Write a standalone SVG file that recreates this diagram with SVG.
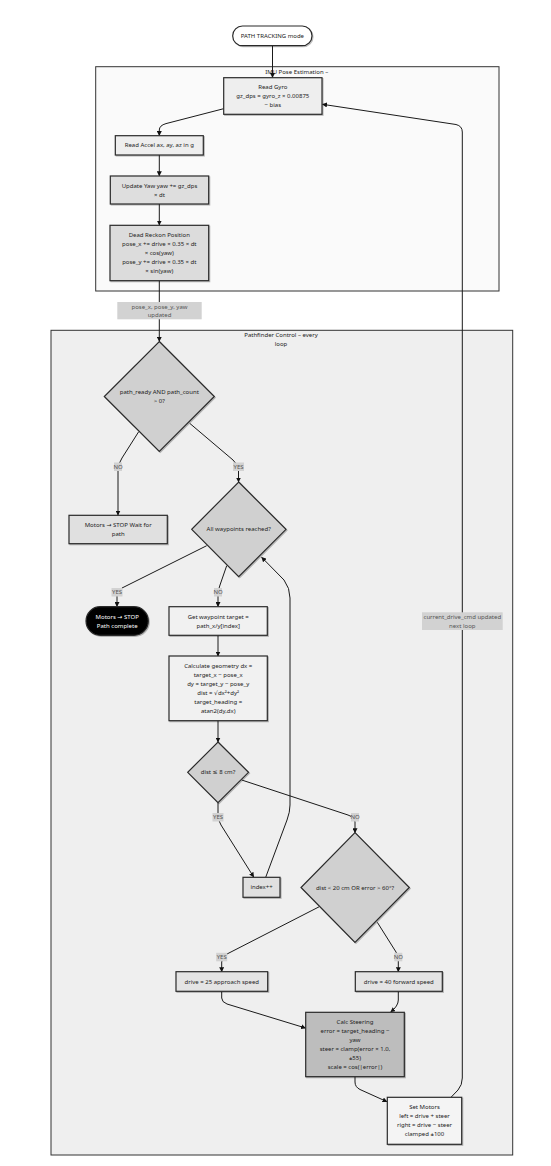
<svg xmlns="http://www.w3.org/2000/svg" width="551" height="1166" viewBox="0 0 551 1166">
<defs>
<marker id="arr" viewBox="0 0 10 10" refX="9" refY="5" markerUnits="userSpaceOnUse" markerWidth="5" markerHeight="5" orient="auto">
<path d="M0,0 L10,5 L0,10 z" fill="#111"/>
</marker>
<filter id="sh" x="-10%" y="-10%" width="130%" height="130%">
<feDropShadow dx="1" dy="1" stdDeviation="0.4" flood-color="#000" flood-opacity="0.25"/>
</filter>
</defs>
<style>
text{font-family:"Noto Sans","DejaVu Sans",sans-serif;font-size:6px;fill:#222;text-anchor:middle;dominant-baseline:central}
.node{stroke:#2a2a2a;stroke-width:1.2;filter:url(#sh)}
.cl{stroke:#333;stroke-width:1}
.e{fill:none;stroke:#1a1a1a;stroke-width:1;marker-end:url(#arr)}
.lb{fill:#d2d2d2}
.lt{fill:#555}
.white{fill:#fff}
</style>
<rect width="551" height="1166" fill="#ffffff"/>
<g id="cluster-imu">
<rect class="cl" x="95.7" y="66.7" width="403.3" height="224.3" fill="#fafafa"/>
<text x="296.7" y="71.7">IMU Pose Estimation –</text>
</g>
<g id="cluster-pathfinder">
<rect class="cl" x="51" y="330.3" width="461.7" height="824.7" fill="#efefef"/>
<text x="281" y="335.3">Pathfinder Control – every</text>
<text x="281" y="344">loop</text>
</g>
<g id="connectors">
<path class="e" d="M272.5,46 L272.5,77.5"/>
<path class="e" d="M223.7,108.7 L166,123.6 Q159.3,125.5 159.3,130 L159.3,135.5"/>
<path class="e" d="M159.3,155 L159.3,175.8"/>
<path class="e" d="M159.3,204 L159.3,225"/>
<path class="e" d="M159.3,280.7 L159.3,341.3"/>
<path class="e" d="M138.7,431.7 L122,458 Q118,464 118,470 L118,515"/>
<path class="e" d="M189.7,423.3 L233,460 Q238.5,465 238.5,470 L238.5,482"/>
<path class="e" d="M206.7,545.7 L122,588 Q117,591 117,596 L117,606.5"/>
<path class="e" d="M226.7,565.7 L220,585 Q218,590 218,595 L218,606.5"/>
<path class="e" d="M218,635.3 L218,656"/>
<path class="e" d="M218,720.7 L218,742"/>
<path class="e" d="M218,802.7 L218,815 Q218,820 221,825 L253.7,877"/>
<path class="e" d="M241.7,780 L348,815 Q355,817.5 355,822 L355,832.7"/>
<path class="e" d="M265.7,877.3 L287,820 Q290,812 290,805 L290,598 Q290,588 284,580 L261.7,557.3"/>
<path class="e" d="M319.3,906.7 L227,954 Q221.7,957 221.7,962 L221.7,971.7"/>
<path class="e" d="M377.3,922.3 L396,952 Q398.3,956 398.3,960 L398.3,971.7"/>
<path class="e" d="M221.7,991.3 L221.7,998 Q221.7,1002 227,1004 L305.5,1028"/>
<path class="e" d="M398.3,991.3 L398.3,1000 Q398.3,1006 390.7,1012"/>
<path class="e" d="M355,1076.7 L355,1082 Q355,1087 360,1089.5 L387,1101.7"/>
<path class="e" d="M451,1097.3 L458,1090 Q462.3,1085 462.3,1078 L462.3,132 Q462.3,126 456,124.5 L322.5,104.3"/>
<g id="edge-labels">
<rect class="lb" x="117.3" y="302" width="84.4" height="17.3"/>
<text class="lt" x="159.5" y="306.7">pose_x, pose_y, yaw</text>
<text class="lt" x="159.5" y="315.3">updated</text>
<rect class="lb" x="422" y="612.3" width="80.7" height="17.7"/>
<text class="lt" x="462.3" y="617">current_drive_cmd updated</text>
<text class="lt" x="462.3" y="626">next loop</text>
<rect class="lb" x="114" y="462.5" width="8" height="8.5"/>
<text class="lt" x="118" y="466.7">NO</text>
<rect class="lb" x="233" y="462.5" width="11" height="8.5"/>
<text class="lt" x="238.5" y="466.7">YES</text>
<rect class="lb" x="111.5" y="588" width="11" height="8.5"/>
<text class="lt" x="117" y="592">YES</text>
<rect class="lb" x="214" y="588" width="8" height="8.5"/>
<text class="lt" x="218" y="592">NO</text>
<rect class="lb" x="212.5" y="813" width="11" height="8.5"/>
<text class="lt" x="218" y="817.3">YES</text>
<rect class="lb" x="351" y="813" width="8" height="8.5"/>
<text class="lt" x="355" y="817.3">NO</text>
<rect class="lb" x="216.2" y="952.8" width="11" height="8.5"/>
<text class="lt" x="221.7" y="957">YES</text>
<rect class="lb" x="394.3" y="952.8" width="8" height="8.5"/>
<text class="lt" x="398.3" y="957">NO</text>
</g>
</g>
<g id="start">
<rect class="node" x="232.7" y="26" width="79.3" height="19.7" rx="9.8" fill="#ffffff"/>
<text x="272.4" y="36">PATH TRACKING mode</text>
</g>
<g id="read-gyro">
<rect class="node" x="223.7" y="77.7" width="98.3" height="36.6" fill="#eeeeee"/>
<text x="272.8" y="86.7">Read Gyro</text>
<text x="272.8" y="96">gz_dps = gyro_z × 0.00875</text>
<text x="272.8" y="105">− bias</text>
</g>
<g id="read-accel">
<rect class="node" x="115.3" y="135.7" width="88" height="19.3" fill="#eeeeee"/>
<text x="159.3" y="145.4">Read Accel ax, ay, az in g</text>
</g>
<g id="update-yaw">
<rect class="node" x="110.3" y="176" width="98.4" height="28" fill="#dedede"/>
<text x="159.5" y="185.5">Update Yaw yaw += gz_dps</text>
<text x="159.5" y="194.5">× dt</text>
</g>
<g id="dead-reckon">
<rect class="node" x="110" y="225.3" width="98.7" height="55.4" fill="#dcdcdc"/>
<text x="159.3" y="235">Dead Reckon Position</text>
<text x="159.3" y="244">pose_x += drive × 0.35 × dt</text>
<text x="159.3" y="253">× cos(yaw)</text>
<text x="159.3" y="262">pose_y += drive × 0.35 × dt</text>
<text x="159.3" y="271">× sin(yaw)</text>
</g>
<g id="path-ready">
<polygon class="node" points="159.3,341.5 214.3,396.5 159.3,451.5 104.3,396.5" fill="#d0d0d0"/>
<text x="159.3" y="392">path_ready AND path_count</text>
<text x="159.3" y="401">&gt; 0?</text>
</g>
<g id="motors-wait">
<rect class="node" x="69" y="515.3" width="98.3" height="28.4" fill="#e0e0e0"/>
<text x="118.2" y="525">Motors → STOP Wait for</text>
<text x="118.2" y="534">path</text>
</g>
<g id="all-reached">
<polygon class="node" points="238.7,482 286,529.3 238.7,576.7 191.7,529.3" fill="#d0d0d0"/>
<text x="238.7" y="529.3">All waypoints reached?</text>
</g>
<g id="path-complete">
<rect class="node" x="86" y="606.7" width="62.3" height="28.6" rx="14.3" fill="#000000"/>
<text class="white" x="117.2" y="616.7">Motors → STOP</text>
<text class="white" x="117.2" y="625.7">Path complete</text>
</g>
<g id="get-waypoint">
<rect class="node" x="169" y="606.7" width="98.3" height="28.6" fill="#f1f1f1"/>
<text x="218.2" y="616.7">Get waypoint target =</text>
<text x="218.2" y="625.7">path_x/y[index]</text>
</g>
<g id="calc-geometry">
<rect class="node" x="169" y="656" width="98.3" height="64.7" fill="#f1f1f1"/>
<text x="218.2" y="666">Calculate geometry dx =</text>
<text x="218.2" y="675">target_x − pose_x</text>
<text x="218.2" y="684">dy = target_y − pose_y</text>
<text x="218.2" y="692.8">dist = √dx²+dy²</text>
<text x="218.2" y="701.7">target_heading =</text>
<text x="218.2" y="710.7">atan2(dy,dx)</text>
</g>
<g id="dist-8">
<polygon class="node" points="218,742 248.5,772.3 218,802.7 187.7,772.3" fill="#d0d0d0"/>
<text x="218" y="772">dist ≤ 8 cm?</text>
</g>
<g id="index-inc">
<rect class="node" x="243" y="877.3" width="37" height="20" fill="#e0e0e0"/>
<text x="261.5" y="887.2">index++</text>
</g>
<g id="dist-20">
<polygon class="node" points="355,832.7 409.3,887.5 355,942.3 301,887.5" fill="#d0d0d0"/>
<text x="355" y="887.5">dist &lt; 20 cm OR error &gt; 60°?</text>
</g>
<g id="drive-25">
<rect class="node" x="176" y="971.7" width="91.7" height="19.6" fill="#e4e4e4"/>
<text x="221.8" y="981.6">drive = 25 approach speed</text>
</g>
<g id="drive-40">
<rect class="node" x="355.3" y="971.7" width="87" height="19.6" fill="#e4e4e4"/>
<text x="398.8" y="981.6">drive = 40 forward speed</text>
</g>
<g id="calc-steering">
<rect class="node" x="305.7" y="1012.3" width="98.6" height="64.4" fill="#bdbdbd"/>
<text x="355" y="1022">Calc Steering</text>
<text x="355" y="1031">error = target_heading −</text>
<text x="355" y="1040">yaw</text>
<text x="355" y="1049">steer = clamp(error × 1.0,</text>
<text x="355" y="1058">±55)</text>
<text x="355" y="1067">scale = cos(|error|)</text>
</g>
<g id="set-motors">
<rect class="node" x="387.3" y="1097.3" width="74.4" height="47" fill="#f4f4f4"/>
<text x="424.5" y="1107.3">Set Motors</text>
<text x="424.5" y="1116.3">left = drive + steer</text>
<text x="424.5" y="1125.3">right = drive − steer</text>
<text x="424.5" y="1134.3">clamped ±100</text>
</g>
</svg>
